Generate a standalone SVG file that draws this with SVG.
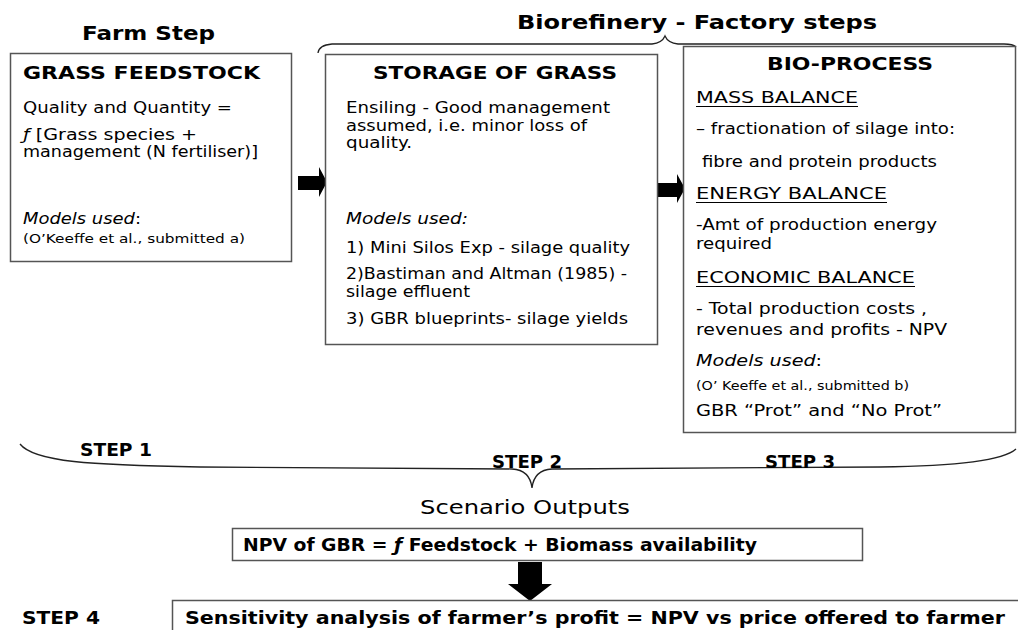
<svg xmlns="http://www.w3.org/2000/svg" width="1018" height="630" viewBox="0 0 1018 630">
  <style>
    text { font-family: "DejaVu Sans", Verdana, sans-serif; fill: #000; }
    .head { font-weight: bold; font-size: 19px; }
    .title { font-weight: bold; font-size: 17px; }
    .body { font-size: 16px; }
    .small { font-size: 13px; }
    .it { font-style: italic; }
    .box { fill: #fff; stroke: #555; stroke-width: 1.5; }
    .brace { fill: none; stroke: #222; stroke-width: 1.3; }
    .arrow { fill: #000; stroke: none; }
    .uline { stroke: #000; stroke-width: 1; }
  </style>

  <rect width="1018" height="630" fill="#fff"/>

  <!-- section headings -->
  <g id="headings">
    <text class="head" x="82" y="40" textLength="133" lengthAdjust="spacingAndGlyphs">Farm Step</text>
    <text class="head" x="517" y="29" textLength="360" lengthAdjust="spacingAndGlyphs">Biorefinery - Factory steps</text>
  </g>

  <!-- connectors: arrows and braces -->
  <g id="connectors">
    <path class="brace" d="M318,53 Q319,45 332,44 L652,44 Q662,43 665,36 Q668,43 678,44 L1004,44 Q1013,44 1016,47"/>
    <path class="brace" d="M20,444 C34,462 90,465 200,467 L512,469 Q530,470 532,488 Q534,470 552,469 L880,467 C960,466 1004,460 1016,449"/>
    <polygon class="arrow" points="298,176 319,176 319,167 327,182 319,197 319,190 298,190"/>
    <polygon class="arrow" points="657,183 677,183 677,174 685,188.5 677,203 677,197 657,197"/>
    <polygon class="arrow" points="518,562 542,562 542,584 552,584 530,601 508,584 518,584"/>
  </g>

  <!-- step 1: feedstock -->
  <g id="grass-feedstock">
    <rect class="box" x="10.5" y="53.5" width="281" height="208"/>
    <text class="title" x="23" y="79" textLength="237" lengthAdjust="spacingAndGlyphs">GRASS FEEDSTOCK</text>
    <text class="body" x="23" y="113" textLength="209" lengthAdjust="spacingAndGlyphs">Quality and Quantity =</text>
    <text class="body" x="23" y="140" textLength="174" lengthAdjust="spacingAndGlyphs"><tspan class="it">ƒ</tspan> [Grass species +</text>
    <text class="body" x="23" y="157" textLength="235" lengthAdjust="spacingAndGlyphs">management (N fertiliser)]</text>
    <text class="body" x="23" y="224" textLength="118" lengthAdjust="spacingAndGlyphs"><tspan class="it">Models used</tspan>:</text>
    <text class="small" x="23" y="243" textLength="222" lengthAdjust="spacingAndGlyphs">(O’Keeffe et al., submitted a)</text>
  </g>

  <!-- step 2: storage -->
  <g id="storage-of-grass">
    <rect class="box" x="325.5" y="54.5" width="332" height="290"/>
    <text class="title" x="373" y="79" textLength="244" lengthAdjust="spacingAndGlyphs">STORAGE OF GRASS</text>
    <text class="body" x="346" y="113" textLength="264" lengthAdjust="spacingAndGlyphs">Ensiling - Good management</text>
    <text class="body" x="346" y="131" textLength="241" lengthAdjust="spacingAndGlyphs">assumed, i.e. minor loss of</text>
    <text class="body" x="346" y="148" textLength="66" lengthAdjust="spacingAndGlyphs">quality.</text>
    <text class="body it" x="346" y="224" textLength="122" lengthAdjust="spacingAndGlyphs">Models used:</text>
    <text class="body" x="346" y="253" textLength="284" lengthAdjust="spacingAndGlyphs">1) Mini Silos Exp - silage quality</text>
    <text class="body" x="346" y="279" textLength="281" lengthAdjust="spacingAndGlyphs">2)Bastiman and Altman (1985) -</text>
    <text class="body" x="346" y="297" textLength="124" lengthAdjust="spacingAndGlyphs">silage effluent</text>
    <text class="body" x="346" y="324" textLength="282" lengthAdjust="spacingAndGlyphs">3) GBR blueprints- silage yields</text>
  </g>

  <!-- step 3: bio-process -->
  <g id="bio-process">
    <rect class="box" x="683.5" y="46.5" width="332" height="386"/>
    <text class="title" x="767" y="70" textLength="166" lengthAdjust="spacingAndGlyphs">BIO-PROCESS</text>
    <text class="body" x="696" y="103" textLength="162" lengthAdjust="spacingAndGlyphs">MASS BALANCE</text>
    <line class="uline" x1="696" y1="106.5" x2="858" y2="106.5"/>
    <text class="body" x="696" y="134" textLength="259" lengthAdjust="spacingAndGlyphs">– fractionation of silage into:</text>
    <text class="body" x="702" y="167" textLength="235" lengthAdjust="spacingAndGlyphs">fibre and protein products</text>
    <text class="body" x="696" y="199" textLength="191" lengthAdjust="spacingAndGlyphs">ENERGY BALANCE</text>
    <line class="uline" x1="696" y1="202.5" x2="887" y2="202.5"/>
    <text class="body" x="696" y="230" textLength="241" lengthAdjust="spacingAndGlyphs">-Amt of production energy</text>
    <text class="body" x="696" y="249" textLength="76" lengthAdjust="spacingAndGlyphs">required</text>
    <text class="body" x="696" y="283" textLength="219" lengthAdjust="spacingAndGlyphs">ECONOMIC BALANCE</text>
    <line class="uline" x1="696" y1="286.5" x2="915" y2="286.5"/>
    <text class="body" x="696" y="314" textLength="231" lengthAdjust="spacingAndGlyphs">- Total production costs ,</text>
    <text class="body" x="696" y="335" textLength="251" lengthAdjust="spacingAndGlyphs">revenues and profits - NPV</text>
    <text class="body" x="696" y="366" textLength="126" lengthAdjust="spacingAndGlyphs"><tspan class="it">Models used</tspan>:</text>
    <text class="small" x="696" y="390" textLength="213" lengthAdjust="spacingAndGlyphs">(O’ Keeffe et al., submitted b)</text>
    <text class="body" x="696" y="416" textLength="246" lengthAdjust="spacingAndGlyphs">GBR “Prot” and “No Prot”</text>
  </g>

  <!-- step labels -->
  <g id="step-labels">
    <text class="title" x="80" y="456" textLength="72" lengthAdjust="spacingAndGlyphs">STEP 1</text>
    <text class="title" x="492" y="468" textLength="70" lengthAdjust="spacingAndGlyphs">STEP 2</text>
    <text class="title" x="765" y="468" textLength="70" lengthAdjust="spacingAndGlyphs">STEP 3</text>
  </g>

  <g id="scenario-outputs">
    <text x="420" y="514" font-size="19" textLength="210" lengthAdjust="spacingAndGlyphs">Scenario Outputs</text>
  </g>

  <g id="npv">
    <rect class="box" x="232.5" y="528.5" width="630" height="32"/>
    <text class="title" x="243" y="551" textLength="514" lengthAdjust="spacingAndGlyphs">NPV of GBR = <tspan class="it">ƒ</tspan> Feedstock + Biomass availability</text>
  </g>

  <g id="step-4">
    <text class="title" x="22" y="624" textLength="78" lengthAdjust="spacingAndGlyphs">STEP 4</text>
    <rect class="box" x="172.5" y="600.5" width="850" height="40"/>
    <text class="title" x="185" y="624" textLength="820" lengthAdjust="spacingAndGlyphs">Sensitivity analysis of farmer’s profit = NPV vs price offered to farmer</text>
  </g>
</svg>
